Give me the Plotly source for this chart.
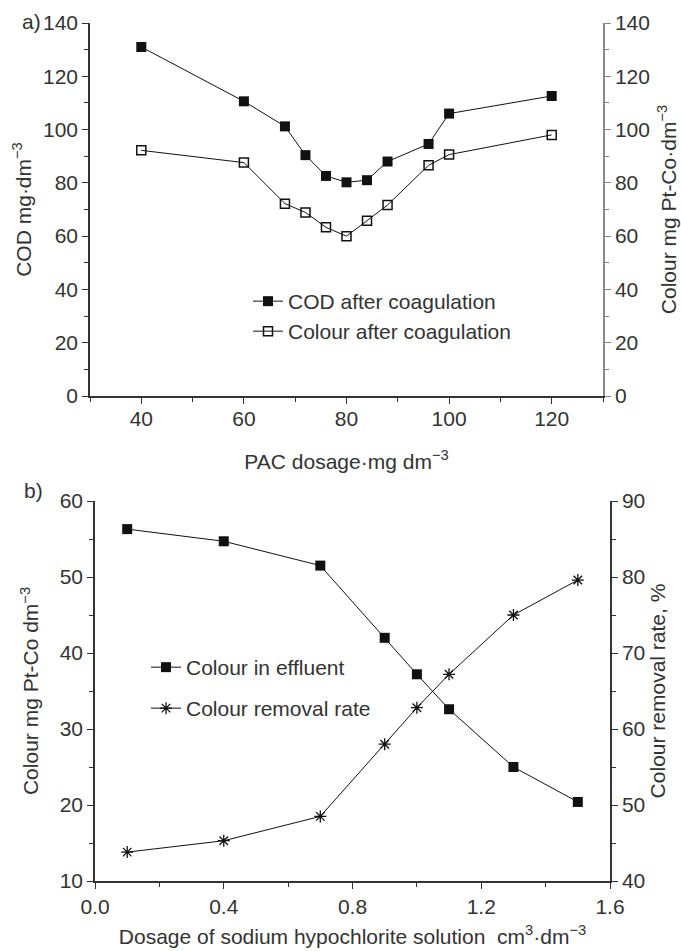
import plotly.graph_objects as go

# ---- Data: panel a) ----
pac_dosage = [40, 60, 68, 72, 76, 80, 84, 88, 96, 100, 120]
cod_after = [131, 110.6, 101.2, 90.4, 82.6, 80.2, 81, 88, 94.6, 106, 112.6]
colour_after = [92.2, 87.6, 72.2, 68.9, 63.3, 60, 65.8, 71.7, 86.6, 90.6, 98]

# ---- Data: panel b) ----
hypo_dosage = [0.1, 0.4, 0.7, 0.9, 1.0, 1.1, 1.3, 1.5]
colour_effluent = [56.3, 54.7, 51.5, 42.0, 37.2, 32.6, 25.0, 20.4]
removal_rate = [43.8, 45.3, 48.5, 58.0, 62.8, 67.2, 75.0, 79.6]

W, H = 681, 951
FONT = "Liberation Sans, Arial, sans-serif"
TXT = "#333333"
FS = 21

def px_x(p):
    return p / W

def px_y(p):
    return 1 - p / H

fig = go.Figure()

fig.add_trace(go.Scatter(x=pac_dosage, y=cod_after, name="COD after coagulation",
                         mode="lines+markers", xaxis="x", yaxis="y", legend="legend",
                         showlegend=True,
                         line=dict(color="#111111", width=1),
                         marker=dict(symbol="square", size=10, color="#111111")))
fig.add_trace(go.Scatter(x=pac_dosage, y=colour_after, name="Colour after coagulation",
                         mode="lines+markers", xaxis="x", yaxis="y2", legend="legend2",
                         showlegend=True,
                         line=dict(color="#111111", width=1),
                         marker=dict(symbol="square-open", size=9, color="#111111",
                                     line=dict(width=1.5))))
fig.add_trace(go.Scatter(x=hypo_dosage, y=colour_effluent, name="Colour in effluent",
                         mode="lines+markers", xaxis="x2", yaxis="y3", legend="legend3",
                         showlegend=True,
                         line=dict(color="#111111", width=1),
                         marker=dict(symbol="square", size=10, color="#111111")))
fig.add_trace(go.Scatter(x=hypo_dosage, y=removal_rate, name="Colour removal rate",
                         mode="lines+markers", xaxis="x2", yaxis="y4", legend="legend4",
                         showlegend=True,
                         line=dict(color="#111111", width=1),
                         marker=dict(symbol="asterisk-open", size=10, color="#111111",
                                     line=dict(width=1.3, color="#111111"))))

axis_common = dict(showgrid=False, zeroline=False, showline=True, linewidth=1.5,
                   linecolor="#333333", ticks="outside", ticklen=6, tickwidth=1.3,
                   tickcolor="#333333", automargin=False,
                   tickfont=dict(family=FONT, size=FS, color=TXT),
                   title_font=dict(family=FONT, size=21, color=TXT))

top_dom = [px_y(396), px_y(23)]
bot_dom = [px_y(881), px_y(501)]

def leg(x, y):
    return dict(x=px_x(x), y=px_y(y), xanchor="left", yanchor="top",
                bgcolor="rgba(0,0,0,0)", font=dict(family=FONT, size=FS, color=TXT))

fig.update_layout(
    width=W, height=H, margin=dict(l=0, r=0, t=0, b=0, autoexpand=False),
    paper_bgcolor="white", plot_bgcolor="white", showlegend=True,
    font=dict(family=FONT, size=FS, color=TXT),
    xaxis=dict(axis_common, domain=[px_x(90), px_x(603)], range=[30, 130],
               tickvals=[40, 60, 80, 100, 120], anchor="y", ticklabelstandoff=-3,
               minor=dict(dtick=10, tick0=0, ticklen=4, ticks="outside", tickcolor="#333333"),
               title=dict(text="PAC dosage·mg dm<sup>−3</sup>", standoff=25)),
    yaxis=dict(axis_common, domain=top_dom, range=[0, 140], dtick=20, anchor="x",
               minor=dict(dtick=10, ticklen=4, ticks="outside", tickcolor="#333333"),
               title=dict(text="COD mg·dm<sup>−3</sup>", standoff=6)),
    yaxis2=dict(axis_common, overlaying="y", side="right", range=[0, 140], dtick=20,
                anchor="x", linecolor="#888888", tickcolor="#888888",
                minor=dict(dtick=10, ticklen=4, ticks="outside", tickcolor="#888888"),
                title=dict(text="Colour mg Pt-Co·dm<sup>−3</sup>", standoff=12)),
    xaxis2=dict(axis_common, domain=[px_x(95), px_x(610)], range=[0, 1.6],
                tickvals=[0, 0.4, 0.8, 1.2, 1.6], ticktext=["0.0", "0.4", "0.8", "1.2", "1.6"],
                anchor="y3",
                minor=dict(dtick=0.2, tick0=0, ticklen=4, ticks="outside", tickcolor="#333333"),
                title=dict(text="Dosage of sodium hypochlorite solution  cm<sup>3</sup>·dm<sup>−3</sup>",
                           standoff=12)),
    yaxis3=dict(axis_common, domain=bot_dom, range=[10, 60], dtick=10, anchor="x2",
                minor=dict(dtick=5, ticklen=4, ticks="outside", tickcolor="#333333"),
                title=dict(text="Colour mg Pt-Co dm<sup>−3</sup>", standoff=15)),
    yaxis4=dict(axis_common, overlaying="y3", side="right", range=[40, 90], dtick=10,
                anchor="x2",
                minor=dict(dtick=5, ticklen=4, ticks="outside", tickcolor="#333333"),
                title=dict(text="Colour removal rate, %", standoff=6)),
    legend=leg(248, 281),
    legend2=leg(248, 311),
    legend3=leg(146, 647),
    legend4=leg(146, 688),
    annotations=[
        dict(text="a)", x=px_x(20), y=px_y(22), xref="paper", yref="paper",
             xanchor="left", yanchor="middle", showarrow=False,
             font=dict(family=FONT, size=FS, color=TXT)),
        dict(text="b)", x=px_x(22), y=px_y(490), xref="paper", yref="paper",
             xanchor="left", yanchor="middle", showarrow=False,
             font=dict(family=FONT, size=FS, color=TXT)),
    ],
)

fig.write_html("out.html")
